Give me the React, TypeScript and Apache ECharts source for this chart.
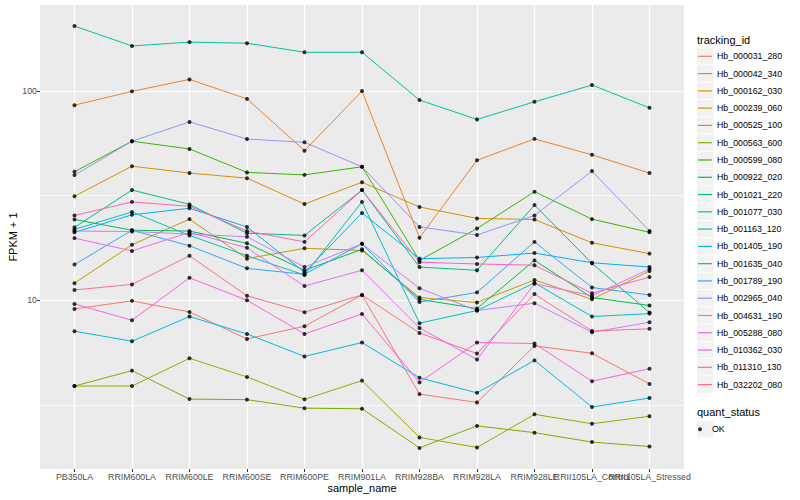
import React, { useEffect, useRef } from "react";
import * as echarts from "echarts";

const categories = [
  "PB350LA", "RRIM600LA", "RRIM600LE", "RRIM600SE", "RRIM600PE", "RRIM901LA",
  "RRIM928BA", "RRIM928LA", "RRIM928LE", "RRII105LA_Control", "RRII105LA_Stressed",
];

const trackingIds = [
  "Hb_000031_280", "Hb_000042_340", "Hb_000162_030", "Hb_000239_060", "Hb_000525_100",
  "Hb_000563_600", "Hb_000599_080", "Hb_000922_020", "Hb_001021_220", "Hb_001077_030",
  "Hb_001163_120", "Hb_001405_190", "Hb_001635_040", "Hb_001789_190", "Hb_002965_040",
  "Hb_004631_190", "Hb_005288_080", "Hb_010362_030", "Hb_011310_130", "Hb_032202_080",
];

const seriesColors = [
  "#F8766D", "#EA8331", "#D89000", "#C09B00", "#A3A500", "#7CAE00", "#39B600", "#00BB4E",
  "#00BF7D", "#00C1A3", "#00BFC4", "#00BAE0", "#00B0F6", "#35A2FF", "#9590FF", "#C77CFF",
  "#E76BF3", "#FA62DB", "#FF62BC", "#FF6C91",
];

// FPKM + 1 per sample, in the order of `categories`
const hb_000031_280 = [9.09, 9.93, 8.79, 6.53, 7.51, 10.6, 3.56, 3.25, 6.05, 5.58, 3.98];
const hb_000042_340 = [85.5, 99.5, 113.5, 91.6, 51.8, 99.8, 19.9, 46.6, 59.0, 49.5, 40.5];
const hb_000162_030 = [31.4, 43.7, 40.5, 38.3, 28.8, 36.6, 27.9, 24.6, 24.3, 18.8, 16.7];
const hb_000239_060 = [12.06, 18.4, 24.4, 15.8, 17.7, 17.3, 10.3, 9.75, 12.5, 10.1, 13.8];
const hb_000525_100 = [3.89, 3.89, 5.28, 4.3, 3.36, 4.13, 2.21, 1.98, 2.85, 2.57, 2.79];
const hb_000563_600 = [3.89, 4.61, 3.37, 3.35, 3.05, 3.03, 1.97, 2.51, 2.33, 2.1, 2.0];
const hb_000599_080 = [41.1, 57.5, 52.8, 40.8, 39.7, 43.4, 15.5, 22.0, 33.0, 24.4, 21.1];
const hb_000922_020 = [24.3, 21.6, 21.4, 18.7, 13.9, 17.5, 10.1, 9.13, 15.5, 10.3, 9.44];
const hb_001021_220 = [22.3, 33.6, 28.7, 20.9, 20.4, 33.6, 14.4, 13.9, 28.5, 15.0, 8.73];
const hb_001077_030 = [204, 164, 171, 169, 153, 153, 90.4, 73.1, 88.7, 106.7, 83];
const hb_001163_120 = [21.8, 26.4, 20.4, 16.3, 13.2, 29.5, 7.77, 8.93, 12.1, 8.36, 8.63];
const hb_001405_190 = [7.11, 6.37, 8.36, 6.9, 5.39, 6.28, 4.26, 3.61, 5.16, 3.09, 3.41];
const hb_001635_040 = [21.1, 25.6, 27.5, 22.4, 13.6, 26.1, 15.8, 16.0, 16.8, 15.1, 14.4];
const hb_001789_190 = [14.8, 21.6, 18.2, 14.2, 13.3, 18.6, 9.8, 10.9, 19.0, 11.5, 10.6];
const hb_002965_040 = [39.6, 57.5, 71.1, 58.9, 56.8, 43.4, 22.4, 20.5, 25.4, 41.4, 21.4];
const hb_004631_190 = [21.4, 21.3, 20.7, 20.1, 14.4, 18.6, 11.4, 8.93, 9.68, 7.03, 7.85];
const hb_005288_080 = [19.8, 17.2, 21.1, 17.8, 11.7, 13.9, 7.37, 5.21, 12.0, 10.5, 14.1];
const hb_010362_030 = [9.6, 8.02, 12.8, 10.0, 6.9, 8.6, 4.05, 6.28, 6.21, 4.1, 4.71];
const hb_011310_130 = [25.4, 29.5, 28.1, 21.4, 19.0, 33.6, 15.2, 14.9, 14.7, 10.8, 12.9];
const hb_032202_080 = [11.2, 11.9, 16.3, 10.5, 8.77, 10.6, 6.98, 5.56, 10.7, 7.13, 7.3];

const seriesValues = [
  hb_000031_280, hb_000042_340, hb_000162_030, hb_000239_060, hb_000525_100,
  hb_000563_600, hb_000599_080, hb_000922_020, hb_001021_220, hb_001077_030,
  hb_001163_120, hb_001405_190, hb_001635_040, hb_001789_190, hb_002965_040,
  hb_004631_190, hb_005288_080, hb_010362_030, hb_011310_130, hb_032202_080,
];

const quantStatus = ["OK"];
const yTickValues = [10, 100];
const yMinorBreaks = [3.1623, 31.623];
const yRange = [1.562, 257.3];
const xRange = [-0.6, 10.6];

const FONT = "'Liberation Sans', Arial, Helvetica, sans-serif";

export default function App() {
  const ref = useRef<HTMLDivElement>(null);

  useEffect(() => {
    if (!ref.current) return;
    const chart = echarts.init(ref.current, undefined, { renderer: "svg" });
    const xIdx = categories.map((_, i) => i);
    const evenIdx = xIdx.filter((i) => i % 2 === 0);
    const oddIdx = xIdx.filter((i) => i % 2 === 1);

    const lineSeries = trackingIds.map((name, s) => ({
      name,
      type: "line",
      xAxisIndex: 0,
      yAxisIndex: 0,
      data: seriesValues[s].map((v, i) => [i, v]),
      showSymbol: false,
      symbol: "none",
      color: seriesColors[s],
      lineStyle: { color: seriesColors[s], width: 1 },
      z: 2,
      silent: true,
    }));

    const pointSeries = trackingIds.map((_, s) => ({
      name: quantStatus[0],
      type: "scatter",
      xAxisIndex: 0,
      yAxisIndex: 0,
      data: seriesValues[s].map((v, i) => [i, v]),
      symbol: "circle",
      symbolSize: 4,
      itemStyle: { color: "#000000" },
      z: 3,
      silent: true,
    }));

    const keyTop = 48;
    const keyStep = 17.28;

    const labelStyle = {
      color: "#4D4D4D",
      fontSize: 8.8,
      margin: 3,
      fontFamily: FONT,
      hideOverlap: false,
      showMinLabel: true,
      showMaxLabel: true,
    };
    const catFormatter = (v: number) => categories[Math.round(v)] ?? "";

    const option = {
      animation: false,
      backgroundColor: "#FFFFFF",
      textStyle: { fontFamily: FONT },
      grid: {
        left: 40, top: 5, width: 644, height: 464,
        show: true, backgroundColor: "#EBEBEB", borderWidth: 0,
        containLabel: false,
        outerBoundsMode: "none",
      },
      xAxis: [
        {
          type: "value",
          position: "bottom",
          min: xRange[0],
          max: xRange[1],
          name: "sample_name",
          nameLocation: "middle",
          nameGap: 13.5,
          nameMoveOverlap: false,
          nameTextStyle: { color: "#000000", fontSize: 11, fontFamily: FONT },
          axisLine: { show: false, onZero: false },
          axisTick: { show: true, customValues: xIdx, length: 3, lineStyle: { color: "#333333", width: 1 } },
          axisLabel: { ...labelStyle, customValues: evenIdx, formatter: catFormatter },
          splitLine: { show: true, lineStyle: { color: "#FFFFFF", width: 1.2 } },
          z: 0,
        },
        {
          type: "value",
          position: "bottom",
          min: xRange[0],
          max: xRange[1],
          axisLine: { show: false, onZero: false },
          axisTick: { show: false, customValues: oddIdx },
          axisLabel: { ...labelStyle, customValues: oddIdx, formatter: catFormatter },
          splitLine: { show: false },
          z: 0,
        },
      ],
      yAxis: [
        {
          type: "log",
          logBase: 10,
          position: "left",
          min: yRange[0],
          max: yRange[1],
          name: "FPKM + 1",
          nameLocation: "middle",
          nameGap: 21.5,
          nameRotate: 90,
          nameMoveOverlap: false,
          nameTextStyle: { color: "#000000", fontSize: 11, fontFamily: FONT },
          axisLine: { show: false, onZero: false },
          axisTick: { show: true, customValues: yTickValues, length: 3, lineStyle: { color: "#333333", width: 1 } },
          axisLabel: {
            ...labelStyle,
            customValues: yTickValues,
            formatter: (v: number) => String(Math.round(v)),
          },
          splitLine: { show: true, lineStyle: { color: "#FFFFFF", width: 1.2 } },
          z: 0,
        },
        {
          type: "log",
          logBase: 10,
          position: "left",
          min: yRange[0],
          max: yRange[1],
          axisLine: { show: false, onZero: false },
          axisTick: { show: false, customValues: yMinorBreaks },
          axisLabel: { show: false, customValues: yMinorBreaks },
          splitLine: { show: true, lineStyle: { color: "#FFFFFF", width: 0.7 } },
          z: 0,
        },
      ],
      legend: [
        {
          data: trackingIds,
          orient: "vertical",
          left: 698,
          top: keyTop + 2.3,
          padding: 0,
          itemGap: keyStep - 12,
          itemWidth: 14,
          itemHeight: 1.2,
          icon: "rect",
          selectedMode: false,
          textStyle: { color: "#000000", fontSize: 8.8, lineHeight: 12, fontFamily: FONT },
        },
        {
          data: quantStatus,
          orient: "vertical",
          left: 698,
          top: 423.3,
          padding: 0,
          itemWidth: 14,
          itemHeight: 4,
          icon: "circle",
          selectedMode: false,
          textStyle: { color: "#000000", fontSize: 8.8, lineHeight: 12, fontFamily: FONT },
        },
      ],
      graphic: [
        {
          type: "text", left: 697, top: 34.5, z: 10,
          style: { text: "tracking_id", fontSize: 11, fill: "#000000", fontFamily: FONT },
        },
        ...trackingIds.map((_, i) => ({
          type: "rect", z: 0,
          shape: { x: 697, y: keyTop + i * keyStep, width: 16.5, height: 16.5 },
          style: { fill: "#F2F2F2" },
        })),
        {
          type: "text", left: 697, top: 406, z: 10,
          style: { text: "quant_status", fontSize: 11, fill: "#000000", fontFamily: FONT },
        },
        {
          type: "rect", z: 0,
          shape: { x: 697, y: 421, width: 16.5, height: 16.5 },
          style: { fill: "#F2F2F2" },
        },
      ],
      series: [...lineSeries, ...pointSeries],
    };

    chart.setOption(option as any);
    return () => chart.dispose();
  }, []);

  return (
    <div
      ref={ref}
      style={{ position: "fixed", left: 0, top: 0, width: 800, height: 500, background: "#FFFFFF" }}
    />
  );
}
